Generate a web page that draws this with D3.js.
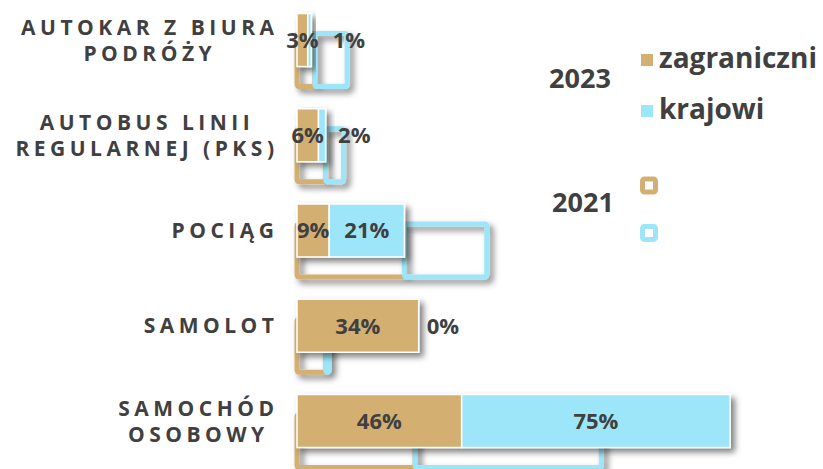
<!DOCTYPE html>
<html>
<head>
<meta charset="utf-8">
<script src="https://cdn.jsdelivr.net/npm/d3@7/dist/d3.min.js"></script>
<style>
  body { margin: 0; background: #fff; }
  svg { display: block; }
</style>
</head>
<body>
<svg id="chart" width="823" height="469"></svg>
<script>
// categories (line breaks kept as in the picture)
var categories = ["AUTOKAR Z BIURA\nPODRÓŻY", "AUTOBUS LINII\nREGULARNEJ (PKS)", "POCIĄG", "SAMOLOT", "SAMOCHÓD\nOSOBOWY"];
var zagraniczni2023 = [3, 6, 9, 34, 46];
var krajowi2023 = [1, 2, 21, 0, 75];
var zagraniczni2021 = [5, 8, 30, 8, 33];
var krajowi2021 = [9, 5, 23, 1, 52];
var seriesNames = ["zagraniczni", "krajowi"];
var years = ["2023", "2021"];

var TAN = "#d3af72", CYAN = "#9de6fa", TXT = "#404040";
var FONT = "'Open Sans', 'DejaVu Sans', sans-serif";

var svg = d3.select("#chart");

var defs = svg.append("defs");
var f = defs.append("filter").attr("id", "shadow")
    .attr("x", "-20%").attr("y", "-40%").attr("width", "150%").attr("height", "200%");
f.append("feDropShadow").attr("dx", 4).attr("dy", 4).attr("stdDeviation", 3)
    .attr("flood-color", "#000").attr("flood-opacity", 0.5);

var x = d3.scaleLinear().domain([0, 100]).range([297, 655]);
var y = d3.scalePoint().domain(categories).range([40, 421]);
var barH = 53;
var off2021 = 20;

function rows(a, b) {
    return categories.map(function (c, i) {
        return { cat: c, a: a[i], b: b[i] };
    });
}

// 2021 - outlined bars, behind
var g21 = svg.append("g").attr("filter", "url(#shadow)");
rows(zagraniczni2021, krajowi2021).forEach(function (d) {
    var top = y(d.cat) - barH / 2 + off2021;
    g21.append("rect")
        .attr("x", x(0)).attr("y", top)
        .attr("width", x(d.a) - x(0)).attr("height", barH)
        .attr("rx", 2).attr("fill", "none")
        .attr("stroke", TAN).attr("stroke-width", 5).attr("stroke-linejoin", "round");
    g21.append("rect")
        .attr("x", x(d.a)).attr("y", top)
        .attr("width", x(d.a + d.b) - x(d.a)).attr("height", barH)
        .attr("rx", 2).attr("fill", "none")
        .attr("stroke", CYAN).attr("stroke-width", 5).attr("stroke-linejoin", "round");
});

// 2023 - filled stacked bars
var g23 = svg.append("g");
var data23 = rows(zagraniczni2023, krajowi2023);
data23.forEach(function (d) {
    var top = y(d.cat) - barH / 2;
    var grp = g23.append("g").attr("filter", "url(#shadow)");
    grp.append("rect")
        .attr("x", x(0)).attr("y", top)
        .attr("width", x(d.a) - x(0)).attr("height", barH)
        .attr("fill", TAN).attr("stroke", "#fff").attr("stroke-width", 1.5);
    if (d.b > 0) {
        grp.append("rect")
            .attr("x", x(d.a)).attr("y", top)
            .attr("width", x(d.a + d.b) - x(d.a)).attr("height", barH)
            .attr("fill", CYAN).attr("stroke", "#fff").attr("stroke-width", 1.5);
    }
});

// value labels
var gl = svg.append("g")
    .attr("font-family", FONT).attr("font-weight", 700)
    .attr("font-size", 22).attr("fill", TXT);
data23.forEach(function (d) {
    var cy = y(d.cat);
    var t1 = gl.append("text")
        .attr("x", (x(0) + x(d.a)) / 2).attr("y", cy)
        .attr("dy", "0.36em").attr("text-anchor", "middle")
        .text(d.a + "%");
    var tanRight = t1.node().getBBox().x + t1.node().getBBox().width;
    var t2 = gl.append("text").attr("y", cy).attr("dy", "0.36em").text(d.b + "%");
    var w2 = t2.node().getComputedTextLength();
    var segW = x(d.a + d.b) - x(d.a);
    if (segW > w2 + 10) {
        t2.attr("x", (x(d.a) + x(d.a + d.b)) / 2).attr("text-anchor", "middle");
    } else {
        t2.attr("x", Math.max(x(d.a + d.b) + 8, tanRight + 14)).attr("text-anchor", "start");
    }
});

// category labels: right aligned block, lines centred
var LS = 4.5;
var gc = svg.append("g")
    .attr("font-family", FONT).attr("font-weight", 700)
    .attr("font-size", 21).attr("fill", TXT).attr("letter-spacing", LS);
categories.forEach(function (c) {
    var lines = c.split("\n");
    var lh = 26;
    var t = gc.append("text").attr("text-anchor", "middle");
    var spans = lines.map(function (l, i) {
        return t.append("tspan")
            .attr("y", y(c) + (i - (lines.length - 1) / 2) * lh)
            .attr("dy", "0.36em").text(l);
    });
    var maxW = d3.max(spans, function (s) { return s.node().getComputedTextLength(); });
    // trailing letter-spacing is not ink, take it off
    var cx = 274 + LS - maxW / 2;
    spans.forEach(function (s) { s.attr("x", cx); });
});

// legend
var lg = svg.append("g").attr("font-family", FONT).attr("font-weight", 700).attr("fill", TXT);
lg.append("text").attr("x", 580).attr("y", 78).attr("dy", "0.36em")
    .attr("text-anchor", "middle").attr("font-size", 27).text(years[0]);
lg.append("text").attr("x", 583).attr("y", 202).attr("dy", "0.36em")
    .attr("text-anchor", "middle").attr("font-size", 27).text(years[1]);
[TAN, CYAN].forEach(function (col, i) {
    var sy = 54 + i * 51;
    lg.append("rect").attr("x", 641).attr("y", sy).attr("width", 12).attr("height", 12).attr("fill", col);
    lg.append("text").attr("x", 659).attr("y", sy + 14).attr("font-size", 28).text(seriesNames[i]);
    var oy = 179 + i * 47.5;
    lg.append("rect").attr("x", 642.5).attr("y", oy).attr("width", 13).attr("height", 13)
        .attr("rx", 2).attr("fill", "#fff").attr("stroke", col).attr("stroke-width", 5);
});
</script>
</body>
</html>
